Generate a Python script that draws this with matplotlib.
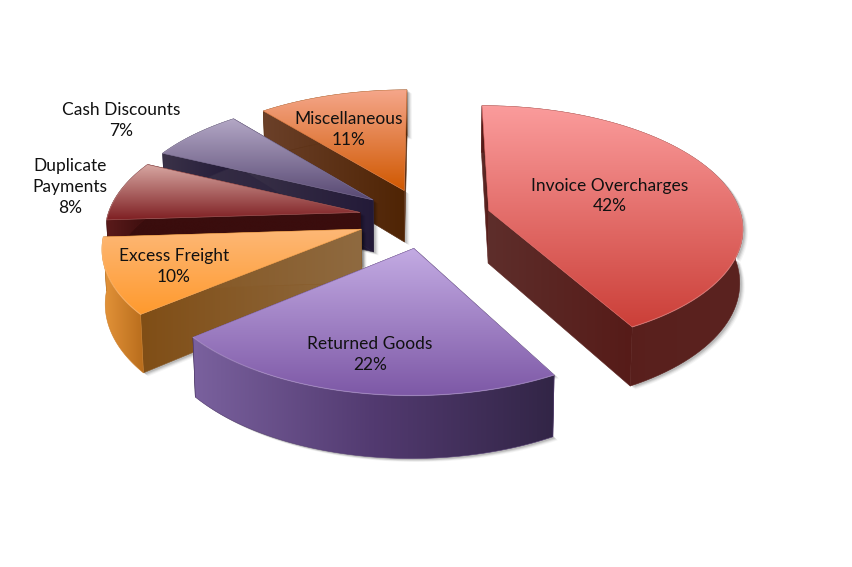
import numpy as np
import matplotlib
matplotlib.use("Agg")
import matplotlib.pyplot as plt
from matplotlib.colors import LinearSegmentedColormap
from matplotlib.patches import Polygon

# chart values
categories = ["Invoice Overcharges", "Returned Goods", "Excess Freight",
              "Duplicate\nPayments", "Cash Discounts", "Miscellaneous"]
shares = [42, 22, 10, 8, 7, 11]

# colours per slice: top, outer wall, cut faces
top_colors = [["#FB9C9C", "#CB3F38"], ["#C3ABE3", "#7D58A6"], ["#FDB877", "#FF9A2E"],
              ["#D8A8A3", "#7E1F22"], ["#B4A8C6", "#574872"], ["#F5A68A", "#D05800"]]
wall_colors = [["#561B18", "#5B2320"], ["#7A619E", "#523A70", "#322546"], ["#E5953A", "#B86C1C"],
               ["#5A1A1A", "#3A0D0D"], ["#3A3248", "#231A38"], ["#6B4029", "#4F2404"]]
face_colors = [["#5E2E2B", "#561B18"], ["#322546", "#322546"], ["#804E16", "#8F6A40"],
               ["#3A0D0D", "#3A0D0D"], ["#3A3248", "#231A38"], ["#6B4029", "#4F2404"]]
label_pos = [(610, 196), (370, 354.5), (174, 266.5), (70, 187), (121, 120.5), (349, 129.5)]

# projection of the pie plane to pixels
CX, CY = 428, 218
RX, RY = 253, 120
PERSP = 0.127
DEPTH = 53
EXPLODE_Y = 0.25
explode_x = [0.25, 0.29, 0.28, 0.275, 0.28, 0.285]


def project(x, y, bottom=False):
    s = 1 / (1 + PERSP * y)
    if bottom:
        return CX + RX * x * s * 0.99, CY - RY * y * s + DEPTH * s
    return CX + RX * x * s, CY - RY * y * s


def gradient(ax, pts, stops, z, vertical=True):
    pts = np.array(pts)
    x0, x1 = pts[:, 0].min(), pts[:, 0].max()
    y0, y1 = pts[:, 1].min(), pts[:, 1].max()
    cmap = LinearSegmentedColormap.from_list("g", stops)
    g = np.linspace(0, 1, 256)
    g = g.reshape(-1, 1) if vertical else g.reshape(1, -1)
    im = ax.imshow(g, cmap=cmap, extent=(x0, x1, y1, y0), aspect="auto", zorder=z,
                   interpolation="bilinear")
    patch = Polygon(pts, closed=True, facecolor="none", edgecolor="none", zorder=z)
    ax.add_patch(patch)
    im.set_clip_path(patch)
    # soften the jagged clip edge
    ax.add_patch(Polygon(pts, closed=True, facecolor="none", edgecolor=cmap(0.5), lw=0.4, zorder=z))


fig = plt.figure(figsize=(8.52, 5.67), dpi=100)
ax = fig.add_axes([0, 0, 1, 1])

edges = np.cumsum([0] + shares) / sum(shares) * 2 * np.pi
mids = (edges[:-1] + edges[1:]) / 2

# far slices first
order = np.argsort(-np.cos(mids))
z = 2
for i in order:
    a0, a1 = edges[i], edges[i + 1]
    ox, oy = explode_x[i] * np.sin(mids[i]), EXPLODE_Y * np.cos(mids[i])
    t = np.linspace(a0, a1, 80)
    px = ox + np.sin(t)
    py = oy + np.cos(t)
    arc_top = [project(x, y) for x, y in zip(px, py)]
    arc_bot = [project(x, y, True) for x, y in zip(px, py)]
    apex_top = project(ox, oy)
    apex_bot = project(ox, oy, True)

    # soft shadow under the solid
    outline = [apex_top] + arc_top + arc_bot[::-1] + [apex_bot]
    for off, alpha in [(5, 0.04), (4, 0.06), (3, 0.09), (2, 0.11)]:
        shifted = [(x + off, y + off * 0.7) for x, y in outline]
        ax.add_patch(Polygon(shifted, closed=True, facecolor=(0, 0, 0, alpha), edgecolor="none", zorder=z))
    z += 1

    # cut faces, wall, then the top
    face_a = [apex_top, arc_top[0], arc_bot[0], apex_bot]
    face_b = [apex_top, arc_top[-1], arc_bot[-1], apex_bot]
    gradient(ax, face_a, face_colors[i], z, vertical=False)
    z += 1
    gradient(ax, face_b, face_colors[i], z, vertical=False)
    z += 1
    gradient(ax, arc_top + arc_bot[::-1], wall_colors[i], z, vertical=False)
    z += 1
    gradient(ax, [apex_top] + arc_top, top_colors[i], z)
    z += 1
    # light rim on the edge of the top
    xs, ys = zip(*arc_top)
    ax.plot(xs, ys, color="white", alpha=0.12, lw=1.0, zorder=z)
    z += 1

for name, share, (lx, ly) in zip(categories, shares, label_pos):
    ax.text(lx, ly, f"{name}\n{share}%", ha="center", va="center", fontsize=12.5,
            family="Lato", color="#111111", linespacing=1.38, zorder=z)

ax.set_xlim(0, 852)
ax.set_ylim(567, 0)
ax.axis("off")
fig.savefig("out.png", dpi=100, facecolor="white")
